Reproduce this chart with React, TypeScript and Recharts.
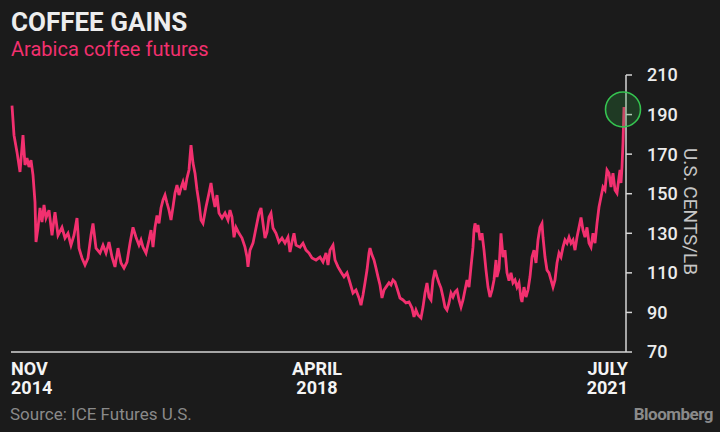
import { LineChart, Line, XAxis, YAxis, ReferenceDot } from "recharts"

// days since early Nov 2014
const days = [
  0, 8, 20, 32, 44, 52, 60, 68, 76, 84, 92, 96, 104, 112, 120, 128, 136, 148, 160, 172,
  184, 200, 212, 224, 236, 248, 260, 268, 280, 292, 304, 316, 324, 336, 352, 364, 376, 388, 400, 412,
  424, 436, 448, 460, 472, 484, 496, 508, 516, 524, 536, 548, 556, 564, 572, 580, 588, 596, 604, 612,
  620, 628, 636, 644, 652, 660, 668, 676, 684, 692, 700, 708, 712, 716, 724, 732, 740, 748, 756, 764,
  776, 788, 796, 804, 812, 820, 828, 840, 852, 864, 872, 880, 888, 896, 908, 920, 932, 940, 944, 952,
  964, 976, 988, 996, 1004, 1012, 1020, 1028, 1036, 1044, 1056, 1068, 1080, 1092, 1104, 1112, 1120, 1128, 1136, 1152,
  1164, 1176, 1188, 1200, 1216, 1232, 1244, 1256, 1264, 1272, 1284, 1292, 1304, 1316, 1328, 1340, 1352, 1364, 1376, 1388,
  1396, 1404, 1412, 1420, 1428, 1432, 1440, 1448, 1456, 1464, 1472, 1480, 1488, 1496, 1508, 1516, 1524, 1532, 1540, 1552,
  1564, 1576, 1588, 1600, 1608, 1616, 1624, 1636, 1644, 1652, 1660, 1668, 1676, 1684, 1692, 1700, 1708, 1716, 1724, 1732,
  1740, 1748, 1756, 1764, 1772, 1780, 1788, 1796, 1804, 1812, 1820, 1828, 1836, 1844, 1848, 1852, 1860, 1864, 1872, 1880,
  1888, 1896, 1904, 1912, 1920, 1928, 1936, 1940, 1948, 1956, 1964, 1972, 1980, 1988, 1996, 2004, 2012, 2020, 2028, 2036,
  2040, 2048, 2056, 2064, 2072, 2080, 2088, 2096, 2104, 2112, 2120, 2124, 2132, 2140, 2148, 2156, 2164, 2172, 2180, 2188,
  2196, 2204, 2212, 2220, 2228, 2236, 2244, 2252, 2260, 2268, 2276, 2284, 2292, 2300, 2308, 2316, 2324, 2332, 2340, 2348,
  2356, 2364, 2372, 2380, 2388, 2396, 2404, 2412, 2420, 2428, 2432, 2436, 2440, 2444, 2448,
]

// U.S. cents per lb
const prices = [
  194.5, 179.6, 171, 161, 179.6, 164.5, 168, 163.5, 167, 159.4, 145.8, 125.6, 132.7, 142.8, 135.7, 144.3, 137.7, 141.7, 129, 140.7,
  129, 133, 127.6, 130, 124, 129, 137.7, 122.5, 117.5, 114, 117.5, 129, 135, 122.5, 120, 124, 120, 125.6, 118, 113,
  122.5, 115, 112.4, 115.5, 125, 133, 128, 124, 126.6, 123, 120, 126.6, 131.6, 123, 133, 139, 135, 142.8, 146.8, 149.3,
  145.3, 141.7, 136.7, 143.3, 150.3, 154.4, 149.3, 152.9, 155.9, 151.9, 157.9, 162, 168.5, 174.6, 165.5, 160.4, 151.9, 145.3, 136.7, 135,
  143.3, 150.3, 155.4, 148.3, 143.3, 149.3, 140.2, 137.7, 140.2, 136.7, 141.7, 138.2, 128, 133, 130, 127.6, 123, 118, 113, 121.5,
  125, 132.7, 140.2, 142.8, 135, 127.6, 130.6, 138.2, 140.2, 132.7, 130, 125.6, 127.6, 125, 128, 120.5, 125.6, 130, 124, 123,
  125, 121.5, 120, 117.5, 116.5, 118, 115.5, 120, 114, 121.5, 124, 116.5, 113, 110.4, 108, 110, 105, 99.8, 101.3, 97.3,
  93.7, 98.8, 105, 111.4, 120, 122.5, 119, 116.5, 112.4, 108, 103.9, 97.3, 101.3, 102.8, 105, 103.9, 106.4, 105.4, 102.3, 97.3,
  96.3, 94.8, 95.3, 92.2, 87.7, 91.2, 88.7, 87.2, 92.7, 99.8, 104.9, 97.8, 96.3, 106.4, 111.4, 107.9, 104.9, 102.3, 97.8, 92.7,
  91.2, 94.8, 99.8, 97.8, 100.3, 101.3, 96.3, 92.7, 96.3, 101.3, 106.4, 102.8, 113, 123, 131.6, 135, 130.6, 134.2, 126.6, 130,
  121.5, 111.4, 102.8, 97.8, 101.3, 106.4, 116.5, 107.9, 112, 130, 118, 121.5, 110, 106, 110, 105, 106.4, 102.8, 105, 97,
  95.3, 102.8, 97.8, 101.3, 108, 118, 121.5, 115, 126.6, 133, 135, 128, 118, 111.4, 110, 106.4, 102.8, 106.4, 115, 120,
  118, 123, 126.6, 125, 128, 125, 126.6, 121.5, 128, 133, 138, 131.6, 128, 133, 125, 123, 130, 125, 135, 143.3,
  148.3, 153.4, 151.9, 162, 160.4, 153.4, 160.4, 151.9, 150.3, 158.4, 162, 155.4, 163.5, 175.6, 193.8,
]

const yTicks = [70, 90, 110, 130, 150, 170, 190, 210]
const xTicks = [0, 1220, 2448]
const xTickLabels = [["NOV", "2014"], ["APRIL", "2018"], ["JULY", "2021"]]

const title = "COFFEE GAINS"
const subtitle = "Arabica coffee futures"
const unitLabel = "U.S. CENTS/LB"
const source = "Source: ICE Futures U.S."
const brand = "Bloomberg"

const pink = "#f2306f"
const axisColor = "#d6d6d6"

const data = days.map((day, i) => ({ day, price: prices[i] }))

function DateTick(props: any) {
  const { x, y, payload } = props
  const i = xTicks.indexOf(payload.value)
  const last = i === xTicks.length - 1
  const anchor = i === 0 ? "start" : last ? "end" : "middle"
  const tx = x + (i === 0 ? -1 : last ? 4 : 0)
  const [top, bottom] = xTickLabels[i] || ["", ""]
  return (
    <text x={tx} y={y} textAnchor={anchor} fill="#f4f4f4" fontFamily="Roboto" fontWeight={700} fontSize={18}>
      <tspan x={tx} dy={23}>{top}</tspan>
      <tspan x={tx} dy={19}>{bottom}</tspan>
    </text>
  )
}

export default function App() {
  return (
    <div
      style={{
        position: "absolute",
        left: 0,
        top: 0,
        width: 720,
        height: 432,
        background: "#1b1b1b",
        fontFamily: "Roboto, sans-serif",
        overflow: "hidden",
      }}
    >
      <div style={{ position: "absolute", left: 0, top: 0 }}>
        <LineChart width={720} height={432} data={data} margin={{ top: 75, right: 34, bottom: 35, left: 11 }}>
          <XAxis
            dataKey="day"
            type="number"
            domain={[-4, 2456]}
            ticks={xTicks}
            interval={0}
            height={45}
            tickSize={0}
            tickMargin={0}
            tickLine={false}
            axisLine={{ stroke: axisColor, strokeWidth: 1.5 }}
            tick={<DateTick />}
          />
          <YAxis
            orientation="right"
            domain={[70, 210]}
            ticks={yTicks}
            interval={0}
            width={60}
            tickSize={6}
            tickMargin={15}
            axisLine={{ stroke: axisColor, strokeWidth: 1.5 }}
            tickLine={{ stroke: axisColor, strokeWidth: 1.5 }}
            tick={{ fill: "#ececec", fontSize: 18, fontFamily: "Roboto", fontWeight: 500 }}
          />
          <ReferenceDot
            x={2444}
            y={192.6}
            r={17.5}
            fill="rgba(45,170,70,0.22)"
            stroke="#35c450"
            strokeWidth={1.6}
          />
          <Line
            type="linear"
            dataKey="price"
            stroke={pink}
            strokeWidth={2.8}
            dot={false}
            activeDot={false}
            isAnimationActive={false}
          />
        </LineChart>
      </div>
      <div
        style={{
          position: "absolute",
          left: 11,
          top: 9,
          fontSize: 26,
          lineHeight: "26px",
          fontWeight: 700,
          color: "#ededed",
          whiteSpace: "nowrap",
        }}
      >
        {title}
      </div>
      <div
        style={{
          position: "absolute",
          left: 11,
          top: 39,
          fontSize: 20,
          lineHeight: "20px",
          color: pink,
          whiteSpace: "nowrap",
        }}
      >
        {subtitle}
      </div>
      <div
        style={{
          position: "absolute",
          left: 680,
          top: 148,
          fontSize: 19,
          lineHeight: "20px",
          color: "#c6c6c6",
          writingMode: "vertical-rl",
          whiteSpace: "nowrap",
        }}
      >
        {unitLabel}
      </div>
      <div
        style={{
          position: "absolute",
          left: 10,
          top: 404,
          fontSize: 17,
          lineHeight: "20px",
          color: "#8a8a8a",
          whiteSpace: "nowrap",
        }}
      >
        {source}
      </div>
      <div
        style={{
          position: "absolute",
          right: 7,
          top: 404,
          fontSize: 17,
          lineHeight: "20px",
          fontWeight: 700,
          color: "#8a8a8a",
          whiteSpace: "nowrap",
          letterSpacing: -0.5,
        }}
      >
        {brand}
      </div>
    </div>
  )
}
